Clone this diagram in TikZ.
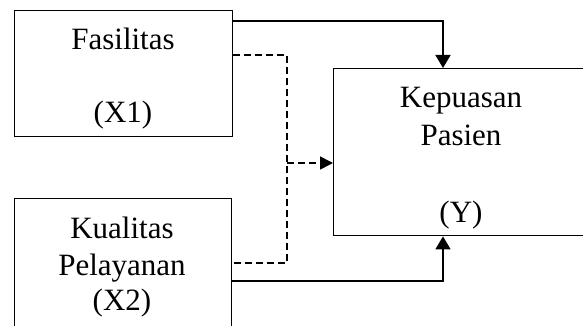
\documentclass[tikz,border=0pt]{standalone}
\usepackage{fontspec}
\setmainfont{Liberation Serif}
\usepackage{tikz}
\usetikzlibrary{arrows.meta}

\tikzset{
  varbox/.style = {draw, line width=1.4pt, inner sep=0pt, anchor=north west},
  varlabel/.style = {anchor=base, inner sep=0pt, font=\fontsize{31}{36}\selectfont},
  solidarrow/.style = {line width=1.7pt, -{Triangle[length=13pt, width=15pt]}},
  dasharrow/.style = {line width=1.6pt, dash pattern=on 7pt off 4pt},
}

\begin{document}
\begin{tikzpicture}[x=1pt, y=-1pt]
            \useasboundingbox (0,0) rectangle (583,326);

            % draw variable boxes
            \node[varbox, minimum width=218pt, minimum height=126pt] (fasilitas) at (14,10) {};
            \node[varbox, minimum width=217pt, minimum height=145pt] (kualitas) at (14,198) {};
            \node[varbox, minimum width=256pt, minimum height=167pt] (kepuasan) at (333,68) {};

            % draw box texts
            \node[varlabel] (fasText) at (123,50) {Fasilitas};
            \node[varlabel] (xOne) at (123,123) {(X1)};
            \node[varlabel] (kepText) at (461,108) {Kepuasan};
            \node[varlabel] (pasText) at (461,145) {Pasien};
            \node[varlabel] (yText) at (461,222) {(Y)};
            \node[varlabel] (kuaText) at (122,238) {Kualitas};
            \node[varlabel] (pelText) at (122,275) {Pelayanan};
            \node[varlabel] (xTwo) at (122,310) {(X2)};

            % corner points of the connectors
            \coordinate (topBend) at (443,21);
            \coordinate (botBend) at (443,281);
            \coordinate (dashTop) at (287,55);
            \coordinate (dashBot) at (287,263);
            \coordinate (dashMid) at (287,163);

            % draw solid arrows
            \draw[solidarrow] (fasilitas.east |- topBend) -| (kepuasan.north -| topBend);
            \draw[solidarrow] (kualitas.east |- botBend) -| (kepuasan.south -| botBend);

            % draw dashed lines
            \draw[dasharrow] (fasilitas.east |- dashTop) -- (dashTop) -- (dashBot) -- (kualitas.east |- dashBot);
            \draw[dasharrow, -{Triangle[length=13pt, width=13pt]}] (dashMid) -- (kepuasan.west |- dashMid);
        \end{tikzpicture}
\end{document}
